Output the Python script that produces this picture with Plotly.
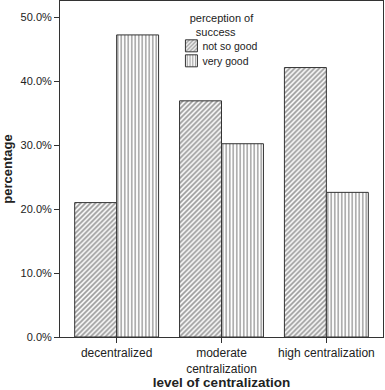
import plotly.graph_objects as go

categories = ["decentralized", "moderate<br>centralization", "high centralization"]
not_so_good = [21.0, 36.9, 42.1]
very_good = [47.2, 30.2, 22.6]
series_names = ["not so good", "very good"]
y_ticks = [0, 10, 20, 30, 40, 50]
y_tick_labels = ["0.0%", "10.0%", "20.0%", "30.0%", "40.0%", "50.0%"]

FONT = "Liberation Sans, Arial, sans-serif"

fig = go.Figure()
fig.add_trace(go.Bar(
    x=categories, y=not_so_good, name=series_names[0],
    marker=dict(color="white", line=dict(color="#333", width=1),
                pattern=dict(shape="/", fgcolor="#333", bgcolor="white", size=3.5, solidity=0.5)),
))
fig.add_trace(go.Bar(
    x=categories, y=very_good, name=series_names[1],
    marker=dict(color="white", line=dict(color="#333", width=1),
                pattern=dict(shape="|", fgcolor="#333", bgcolor="white", size=3.5, solidity=0.4)),
))

fig.update_layout(
    width=385, height=390,
    margin=dict(l=60, r=2, t=1, b=53),
    paper_bgcolor="white", plot_bgcolor="white",
    barmode="group", bargap=0.2, bargroupgap=0,
    font=dict(family=FONT, size=11, color="#222"),
    showlegend=True,
    legend=dict(
        x=0.345, y=0.98, xanchor="left", yanchor="top",
        bgcolor="rgba(0,0,0,0)",
        title=dict(text="perception of<br>\u00a0\u00a0success", side="top center", font=dict(size=11, color="#222")),
        font=dict(size=10.5, color="#222"),
        itemwidth=30, tracegroupgap=0,
    ),
    xaxis=dict(
        range=[-0.54, 2.54], automargin=False,
        showline=True, linecolor="#333", linewidth=1, mirror=True,
        ticks="outside", ticklen=5, tickcolor="#333",
        title=dict(text="<b>level of centralization</b>", font=dict(size=13.5, color="#222"), standoff=6),
        tickfont=dict(size=12, color="#222"),
    ),
    yaxis=dict(
        range=[0, 52.5], automargin=False,
        tickvals=y_ticks, ticktext=y_tick_labels,
        showline=True, linecolor="#333", linewidth=1, mirror=True,
        ticks="outside", ticklen=5, tickcolor="#333",
        showgrid=False, zeroline=False,
        ticklabelstandoff=0,
        title=dict(text="<b>percentage</b>", font=dict(size=13, color="#222"), standoff=8),
        tickfont=dict(size=11, color="#222"),
    ),
)

post_js = """
document.body.style.margin='0';document.body.style.padding='0';
function tweakLegend(){
  var gd=document.querySelector('.plotly-graph-div');
  if(!gd) return;
  gd.querySelectorAll('.legend text.legendtext').forEach(function(t){
    if(t.getAttribute('data-moved')) return;
    t.setAttribute('x', parseFloat(t.getAttribute('x'))-9);
    t.setAttribute('data-moved','1');
  });
  var tr=gd.querySelectorAll('.legend g.traces');
  tr.forEach(function(g,i){
    if(g.getAttribute('data-moved')) return;
    var m=/translate\\(([-\\d.]+)[ ,]+([-\\d.]+)\\)/.exec(g.getAttribute('transform')||'');
    if(m){
      g.setAttribute('transform','translate('+m[1]+','+(parseFloat(m[2])-5-4*i)+')');
      g.setAttribute('data-moved','1');
    }
  });
}
tweakLegend(); setTimeout(tweakLegend,30);
"""

fig.write_html("out.html", config={"displayModeBar": False}, post_script=post_js)
